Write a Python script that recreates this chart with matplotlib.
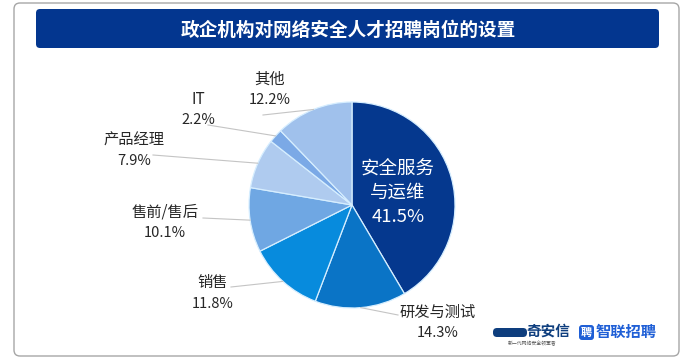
import numpy as np
import matplotlib.pyplot as plt
from matplotlib.patches import FancyBboxPatch

plt.rcParams['font.family'] = ['Noto Sans CJK SC', 'DejaVu Sans']

# data
labels = ["安全服务\n与运维", "研发与测试", "销售", "售前/售后", "产品经理", "IT", "其他"]
shares = [41.5, 14.3, 11.8, 10.1, 7.9, 2.2, 12.2]
colors = ["#05388E", "#0A74C6", "#078BDD", "#6FA7E3", "#AFCBEF", "#7BA9E6", "#A0C1EC"]
title = "政企机构对网络安全人才招聘岗位的设置"

# layout (pixels, y measured from the top)
W, H = 697, 362
cx, cy, R = 352, 205, 103
# label anchor: text centre (x, y of the name line) and where the leader line stops
label_pos = {
    "研发与测试": ((438, 312), (398, 315)),
    "销售": ((213, 283), (231, 287)),
    "售前/售后": ((165, 212), (203, 218)),
    "产品经理": ((134, 140), (153, 155)),
    "IT": ((198, 99), (208, 125)),
    "其他": ((270, 79), (263, 115)),
}


def Y(y):
    return H - y


fig = plt.figure(figsize=(W / 100, H / 100), dpi=100)
ax = fig.add_axes([0, 0, 1, 1])
ax.set_xlim(0, W)
ax.set_ylim(0, H)
ax.set_aspect("equal")
ax.axis("off")

# outer frame and title banner
ax.add_patch(FancyBboxPatch((14, Y(356)), 665, 353, boxstyle="round,pad=0,rounding_size=6",
                            fc="white", ec="#A6A6A6", lw=1.0))
ax.add_patch(FancyBboxPatch((36, Y(48)), 623, 39, boxstyle="round,pad=0,rounding_size=4",
                            fc="#03368F", ec="none"))
ax.text(W / 2, Y(30), title, color="white", fontsize=13.4, fontweight="bold",
        ha="center", va="center")

wedges, _ = ax.pie(shares, colors=colors, startangle=90, counterclock=False,
                   center=(cx, Y(cy)), radius=R, frame=True,
                   wedgeprops=dict(edgecolor="#D6EEFF", linewidth=0.9))
ax.set_xlim(0, W)
ax.set_ylim(0, H)
ax.axis("off")

# outside labels with leader lines
for name, val, w in zip(labels, shares, wedges):
    mid = np.deg2rad((w.theta1 + w.theta2) / 2)
    ex, ey = cx + R * np.cos(mid), Y(cy) + R * np.sin(mid)
    if name not in label_pos:
        # big slice: label inside
        ax.text(398, Y(193), f"{name}\n{val}%", color="white", fontsize=13.3,
                ha="center", va="center", linespacing=1.45)
        continue
    (tx, ty), (lx, ly) = label_pos[name]
    ax.plot([lx, ex], [Y(ly), ey], color="#C4C4C4", lw=0.8)
    ax.text(tx, Y(ty), name, fontsize=11, color="#262626", ha="center", va="center")
    ax.text(tx, Y(ty + 21), f"{val}%", fontsize=10.5, color="#262626",
            ha="center", va="center")

# logos (approximated with text)
ax.add_patch(FancyBboxPatch((493, Y(337)), 34, 9, boxstyle="round,pad=0,rounding_size=4",
                            fc="#0E3E7E", ec="none"))
ax.text(548, Y(331), "奇安信", fontsize=10.5, fontweight="bold", color="#0E3E7E",
        ha="center", va="center")
ax.text(532, Y(344), "新一代网络安全领军者", fontsize=3.5, color="#555555",
        ha="center", va="center")
ax.add_patch(FancyBboxPatch((579, Y(340)), 15, 15, boxstyle="round,pad=0,rounding_size=3",
                            fc="#1F5FD6", ec="none"))
ax.text(586.5, Y(332.5), "聘", fontsize=8, fontweight="bold", color="white",
        ha="center", va="center")
ax.text(626, Y(332), "智联招聘", fontsize=11, fontweight="bold", color="#1F5FD6",
        ha="center", va="center")

fig.savefig("out.png", dpi=100)
